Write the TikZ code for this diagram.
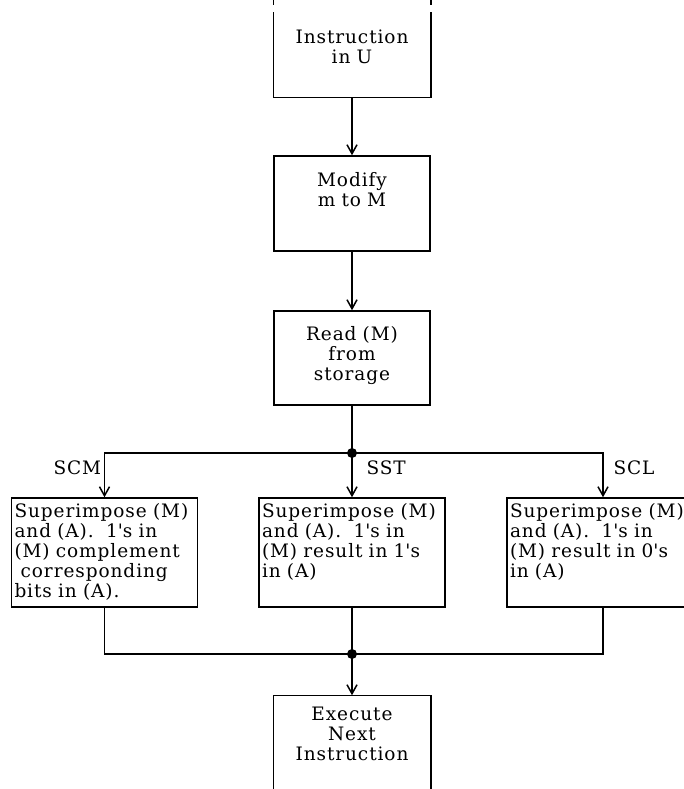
\documentclass[tikz,border=0pt]{standalone}
\usepackage{fontspec}
\setmainfont{DejaVu Serif}[LetterSpace=5]
\usepackage{tikz}
\usetikzlibrary{arrows.meta, positioning, calc}
\newcommand{\ap}{\textquotesingle}

\begin{document}
\begin{tikzpicture}[x=1pt, y=-1pt,
    every node/.style={font=\fontsize{18.5}{20}\selectfont},
    block/.style={rectangle, draw, line width=1.5pt, align=center, text width=150pt, inner xsep=3pt, inner ysep=4pt},
    opbox/.style={rectangle, draw, line width=1.5pt, align=left, text width=180pt, inner xsep=3pt, inner ysep=4pt, text height=15pt, text depth=86pt},
    openside/.style={line width=1.5pt, dash pattern=on 6pt off 7pt on 200pt},
    line/.style={line width=1.5pt},
    arrow/.style={->, >={Straight Barb[length=9pt,width=10pt]}, line width=1.5pt}
]
\useasboundingbox (0,0) rectangle (683,789);

\node[block, draw=none, text height=40pt, text depth=49pt] (instr) at (352,48.5) {Instruction\\in U};
\node[block, text height=26pt, text depth=61pt] (mod) at (352,203.5) {Modify\\m to M};
\node[block, text height=25pt, text depth=61pt] (rdm) at (352,358) {Read (M)\\from\\storage};

\coordinate (split) at (352,453);
\coordinate (join) at (352,654);

\node[opbox] (scm) at (104.5,552.5) {Superimpose (M)\\and (A).~~1\ap s in\\(M) complement\\~corresponding\\bits in (A).};
\node[opbox] (sst) at (352,552.5) {Superimpose (M)\\and (A).~~1\ap s in\\(M) result in 1\ap s\\in (A)};
\node[opbox, text width=186pt] (scl) at (603,552.5) {Superimpose (M)\\and (A).~~1\ap s in\\(M) result in 0\ap s\\in (A)};

\node[block, draw=none, text height=20pt, text depth=65pt] (exec) at (352,742.5) {Execute\\Next\\Instruction};

\node[anchor=base west] (lscm) at (50,474) {SCM};
\node[anchor=base west] (lsst) at (363,474) {SST};
\node[anchor=base west] (lscl) at (610,474) {SCL};

% open boxes at top and bottom
\draw[openside] (instr.north west) -- (instr.south west);
\draw[openside] (instr.north east) -- (instr.south east);
\draw[line] (instr.south west) -- (instr.south east);
\draw[line] (exec.south west) -- (exec.north west) -- (exec.north east) -- (exec.south east);

\draw[arrow] (instr.south) -- (mod.north);
\draw[arrow] (mod) -- (rdm);
\draw[line] (rdm.south) -- (split);
\draw[arrow] (split) -| (scm.north);
\draw[arrow] (split) -- (sst.north);
\draw[arrow] (split) -| (scl.north);
\draw[line] (scm.south) |- (join);
\draw[line] (sst.south) -- (join);
\draw[line] (scl.south) |- (join);
\draw[arrow] (join) -- (exec.north);
\fill (split) circle (5pt);
\fill (join) circle (5pt);
\end{tikzpicture}
\end{document}
